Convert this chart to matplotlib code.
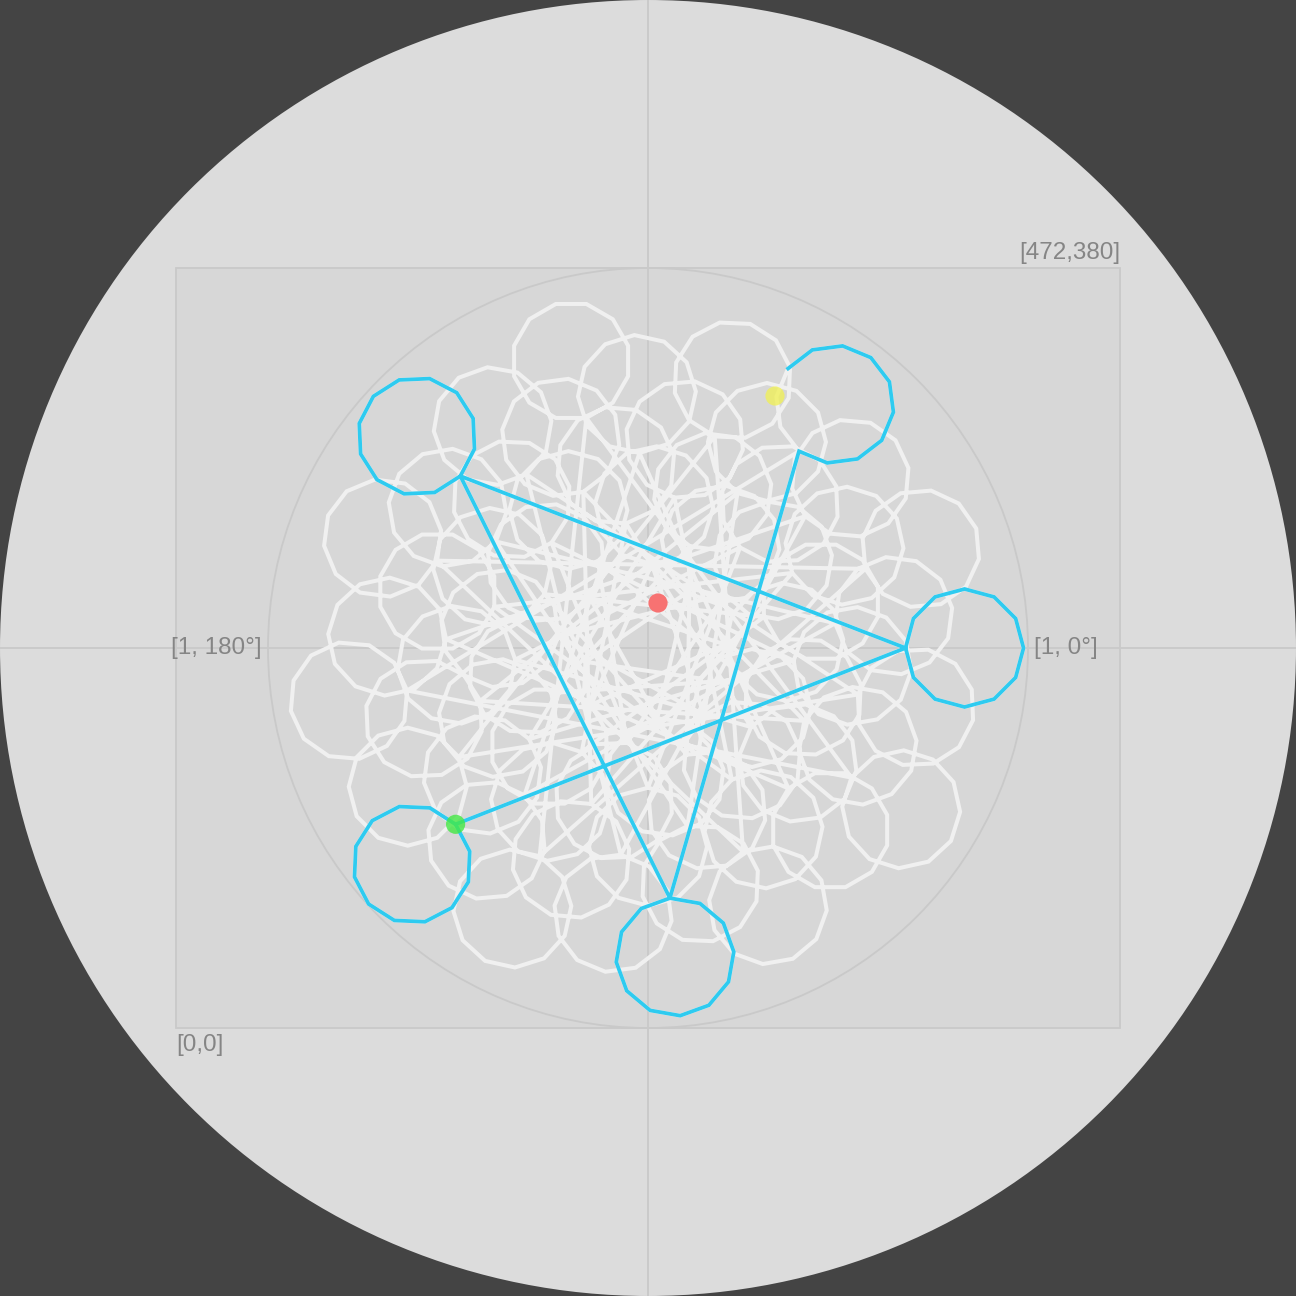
import numpy as np
import matplotlib.pyplot as plt
from matplotlib.patches import Circle, Rectangle

# box in data units, center of polar frame, unit circle radius
box_w, box_h = 472, 380
cx, cy = 236, 190
unit = 190

# loop centres in drawing order: polar angle (deg) and radius (unit circle = 1)
angles = [330, 192.5, 55, 277.5, 140, 2.5, 225, 87.5, 310, 172.5,
          35, 257.5, 120, 342.5, 205, 67.5, 290, 152.5, 15, 237.5,
          100, 322.5, 185, 47.5, 270, 132.5, 355, 217.5, 80, 302.5,
          165, 27.5, 250, 112.5, 335, 197.5, 60, 282.5, 145, 7.5,
          230, 92.5, 315, 177.5, 40, 262.5, 125, 347.5, 210, 72.5,
          295, 157.5, 20, 242.5, 105, 327.5, 190, 52.5, 275, 137.5,
          0, 222.5]
radii = [0.316, 0.324, 0.333, 0.342, 0.350, 0.359, 0.367, 0.376, 0.385, 0.393,
         0.402, 0.411, 0.419, 0.428, 0.436, 0.445, 0.454, 0.462, 0.471, 0.480,
         0.488, 0.497, 0.506, 0.514, 0.523, 0.531, 0.540, 0.549, 0.557, 0.566,
         0.574, 0.583, 0.592, 0.600, 0.609, 0.618, 0.626, 0.635, 0.644, 0.652,
         0.661, 0.669, 0.678, 0.687, 0.695, 0.704, 0.713, 0.721, 0.730, 0.739,
         0.747, 0.756, 0.764, 0.773, 0.782, 0.790, 0.799, 0.808, 0.816, 0.825,
         0.833, 0.842]
small_r = 29.5      # radius of each little loop
n_sides = 12
highlight_from = 57  # last five loops are shown in blue
highlight_skip = 3   # first vertices of the first blue loop are not blue

# extra markers (data units)
red_pt = (241, 212.5)
yellow_pt = (299.5, 316)


def loop_points(ang, rad):
    t = np.deg2rad(ang)
    x0 = cx + unit * rad * np.cos(t)
    y0 = cy + unit * rad * np.sin(t)
    # start at the point facing the centre, go clockwise
    a = t + np.pi - np.deg2rad(np.arange(n_sides + 1) * 360 / n_sides)
    return x0 + small_r * np.cos(a), y0 + small_r * np.sin(a)


xs, ys = [], []
for ang, rad in zip(angles, radii):
    px, py = loop_points(ang, rad)
    xs.append(px)
    ys.append(py)

all_x = np.concatenate(xs)
all_y = np.concatenate(ys)
blue_x = np.concatenate(xs[highlight_from:])[highlight_skip:]
blue_y = np.concatenate(ys[highlight_from:])[highlight_skip:]

fig = plt.figure(figsize=(12.96, 12.96), dpi=100, facecolor='#444444')
ax = fig.add_axes([0, 0, 1, 1])
ax.set_facecolor('#444444')
ax.set_xlim(cx - 324, cx + 324)
ax.set_ylim(cy - 324, cy + 324)
ax.set_aspect('equal')
ax.axis('off')

ax.add_patch(Circle((cx, cy), 324, facecolor='#dcdcdc', edgecolor='none', zorder=0))
ax.add_patch(Rectangle((0, 0), box_w, box_h, facecolor='#d7d7d7',
                       edgecolor='#c9c9c9', lw=1.3, zorder=1))
ax.plot([cx - 324, cx + 324], [cy, cy], color='#c9c9c9', lw=1.3, zorder=1.5)
ax.plot([cx, cx], [cy - 324, cy + 324], color='#c9c9c9', lw=1.3, zorder=1.5)
ax.add_patch(Circle((cx, cy), unit, facecolor='none', edgecolor='#c9c9c9', lw=1.3, zorder=1.5))

ax.plot(all_x, all_y, color='#f0f0f0', lw=2.9, solid_joinstyle='miter', zorder=2)
ax.plot(blue_x, blue_y, color='#2ecbf0', lw=2.7, solid_joinstyle='miter', zorder=3)

ax.add_patch(Circle(red_pt, 4.8, facecolor='#f77272', edgecolor='none', zorder=4))
ax.add_patch(Circle(yellow_pt, 4.8, facecolor='#f0f05a', alpha=0.8, edgecolor='none', zorder=4))
ax.add_patch(Circle((all_x[-1], all_y[-1]), 4.8, facecolor='#44e844', alpha=0.8,
                    edgecolor='none', zorder=4))

txt = dict(color='#858585', fontsize=17.5, family=['Liberation Sans', 'DejaVu Sans'])
ax.text(box_w, box_h + 2, '[472,380]', ha='right', va='bottom', **txt)
ax.text(0, -3, '[0,0]', ha='left', va='top', **txt)
ax.text(cx - unit - 3, cy, '[1, 180°]', ha='right', va='center', **txt)
ax.text(cx + unit + 3, cy, '[1, 0°]', ha='left', va='center', **txt)

fig.savefig('out.png', dpi=100, facecolor='#444444')
